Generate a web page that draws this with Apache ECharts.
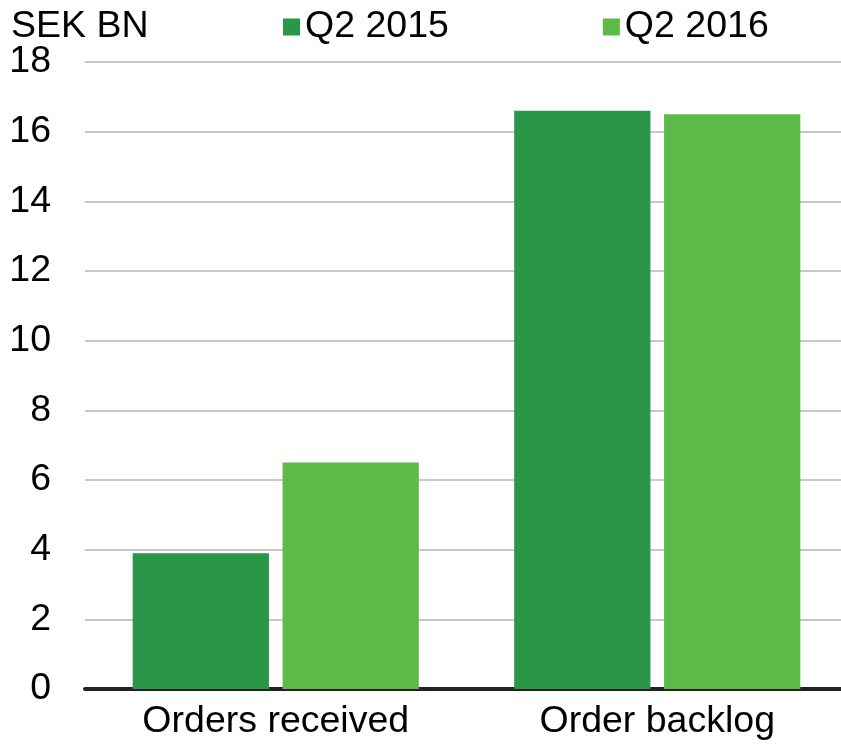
<!DOCTYPE html>
<html lang="en">
<head>
<meta charset="UTF-8">
<script src="https://cdn.jsdelivr.net/npm/echarts@6/dist/echarts.min.js"></script>
<title>Orders</title>
<style>
  html, body { margin: 0; padding: 0; background: #fff; overflow: hidden; }
</style>
</head>
<body>
<!-- chart runs a few px past the right edge of the window, like the source -->
<div id="main" style="width: 848px; height: 745px;"></div>
<script type="text/javascript">
  var categories = ['Orders received', 'Order backlog'];
  var q2_2015 = [3.9, 16.6];
  var q2_2016 = [6.5, 16.5];
  var yTicks = [0, 18, 2]; // min, max, interval

  var font = '"Liberation Sans", Arial, sans-serif';
  var fs = 37.5;
  var chart = echarts.init(document.getElementById('main'));

  var option = {
    animation: false,
    title: {
      text: 'SEK BN',
      left: 6,
      top: 3,
      textStyle: { fontFamily: font, fontSize: fs, fontWeight: 'normal', color: '#000' }
    },
    legend: {
      left: 283,
      top: 8,
      padding: 0,
      itemWidth: 17,
      itemHeight: 17,
      itemGap: 154,
      icon: 'rect',
      textStyle: { fontFamily: font, fontSize: fs, color: '#000' },
      data: ['Q2 2015', 'Q2 2016']
    },
    grid: { left: 85, right: 0, top: 62, bottom: 56, containLabel: false },
    xAxis: {
      type: 'category',
      data: categories,
      axisTick: { show: false },
      axisLine: { lineStyle: { color: '#222', width: 4 } },
      axisLabel: { fontFamily: font, fontSize: fs, color: '#000', margin: 14 }
    },
    yAxis: {
      type: 'value',
      min: yTicks[0],
      max: yTicks[1],
      interval: yTicks[2],
      axisLine: { show: false },
      axisTick: { show: false },
      axisLabel: { fontFamily: font, fontSize: fs, color: '#000', margin: 34 },
      splitLine: { lineStyle: { color: '#c8c8c8', width: 2 } }
    },
    series: [
      {
        name: 'Q2 2015',
        type: 'bar',
        data: q2_2015,
        barGap: '10%',
        barCategoryGap: '25%',
        itemStyle: { color: '#2a9748' }
      },
      {
        name: 'Q2 2016',
        type: 'bar',
        data: q2_2016,
        barGap: '10%',
        barCategoryGap: '25%',
        itemStyle: { color: '#5dba48' }
      }
    ]
  };

  chart.setOption(option);
</script>
</body>
</html>
